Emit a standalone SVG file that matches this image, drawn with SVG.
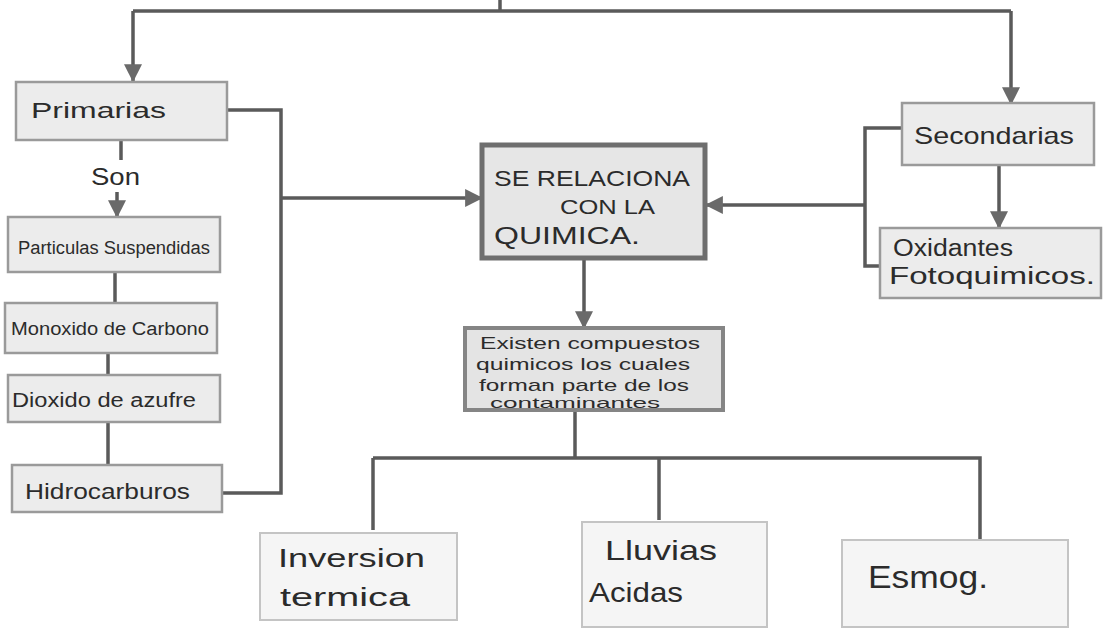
<svg xmlns="http://www.w3.org/2000/svg" width="1111" height="635" viewBox="0 0 1111 635">
<defs>
<style>
.bx{fill:#ececec;stroke:#9a9a9a;stroke-width:2.5}
.lt{fill:#f5f5f5;stroke:#c4c4c4;stroke-width:2}
.ctr{fill:#e6e6e6;stroke:#6e6e6e;stroke-width:5}
.ex{fill:#e4e4e4;stroke:#858585;stroke-width:4}
.ln{fill:none;stroke:#5a5a5a;stroke-width:3.5;stroke-linejoin:miter}
.t{font-family:"Liberation Sans",Arial,sans-serif;fill:#2b2b2b}
</style>
<marker id="ah" markerUnits="userSpaceOnUse" markerWidth="18" markerHeight="18" viewBox="0 0 16 16" refX="15" refY="8" orient="auto">
<path d="M0,0 L16,8 L0,16 Z" fill="#6a6a6a"/>
</marker>
</defs>
<rect width="1111" height="635" fill="#ffffff"/>

<g id="connectors">
<path class="ln" d="M500,0 V11"/>
<path class="ln" d="M133,11 H1011"/>
<path class="ln" d="M133,11 V81" marker-end="url(#ah)"/>
<path class="ln" d="M1011,11 V104" marker-end="url(#ah)"/>
<path class="ln" d="M121,140 V160"/>
<path class="ln" d="M117,192 V217" marker-end="url(#ah)"/>
<path class="ln" d="M115,272 V303"/>
<path class="ln" d="M108,353 V375"/>
<path class="ln" d="M108,422 V465"/>
<path class="ln" d="M227,110 H281 V493 H222"/>
<path class="ln" d="M281,198 H482" marker-end="url(#ah)"/>
<path class="ln" d="M902,128 H865 V266 H880"/>
<path class="ln" d="M865,205 H706" marker-end="url(#ah)"/>
<path class="ln" d="M999,165 V228" marker-end="url(#ah)"/>
<path class="ln" d="M584,258 V328" marker-end="url(#ah)"/>
<path class="ln" d="M575,410 V458"/>
<path class="ln" d="M373,458 H980 V540"/>
<path class="ln" d="M373,458 V530"/>
<path class="ln" d="M659,458 V520"/>
</g>

<g id="primarias">
<rect class="bx" x="16" y="82" width="211" height="58"/>
<text class="t" x="31" y="118" font-size="22" textLength="135" lengthAdjust="spacingAndGlyphs">Primarias</text>
</g>
<g id="son">
<text class="t" x="91" y="185" font-size="24" textLength="49" lengthAdjust="spacingAndGlyphs">Son</text>
</g>
<g id="particulas">
<rect class="bx" x="8" y="217" width="212" height="55"/>
<text class="t" x="18" y="254" font-size="18" textLength="192" lengthAdjust="spacingAndGlyphs">Particulas Suspendidas</text>
</g>
<g id="monoxido">
<rect class="bx" x="5" y="303" width="212" height="50"/>
<text class="t" x="11" y="335" font-size="18" textLength="198" lengthAdjust="spacingAndGlyphs">Monoxido de Carbono</text>
</g>
<g id="dioxido">
<rect class="bx" x="8" y="375" width="212" height="47"/>
<text class="t" x="12" y="407" font-size="20" textLength="184" lengthAdjust="spacingAndGlyphs">Dioxido de azufre</text>
</g>
<g id="hidrocarburos">
<rect class="bx" x="12" y="465" width="210" height="47"/>
<text class="t" x="25" y="499" font-size="22" textLength="165" lengthAdjust="spacingAndGlyphs">Hidrocarburos</text>
</g>

<g id="quimica">
<rect class="ctr" x="482" y="145" width="223" height="113"/>
<text class="t" x="494" y="186" font-size="22" textLength="196" lengthAdjust="spacingAndGlyphs">SE RELACIONA</text>
<text class="t" x="560" y="214" font-size="21" textLength="95" lengthAdjust="spacingAndGlyphs">CON LA</text>
<text class="t" x="494" y="244" font-size="24" textLength="146" lengthAdjust="spacingAndGlyphs">QUIMICA.</text>
</g>

<g id="secundarias">
<rect class="bx" x="902" y="103" width="192" height="62"/>
<text class="t" x="914" y="144" font-size="24" textLength="160" lengthAdjust="spacingAndGlyphs">Secondarias</text>
</g>
<g id="oxidantes">
<rect class="bx" x="880" y="228" width="221" height="70"/>
<text class="t" x="893" y="256" font-size="23" textLength="120" lengthAdjust="spacingAndGlyphs">Oxidantes</text>
<text class="t" x="889" y="284" font-size="23" textLength="206" lengthAdjust="spacingAndGlyphs">Fotoquimicos.</text>
</g>

<g id="existen">
<rect class="ex" x="465" y="328" width="258" height="82"/>
<text class="t" x="480" y="349" font-size="17" textLength="220" lengthAdjust="spacingAndGlyphs">Existen compuestos</text>
<text class="t" x="476" y="370" font-size="17" textLength="214" lengthAdjust="spacingAndGlyphs">quimicos los cuales</text>
<text class="t" x="479" y="391" font-size="17" textLength="210" lengthAdjust="spacingAndGlyphs">forman parte de los</text>
<text class="t" x="490" y="408" font-size="15" textLength="170" lengthAdjust="spacingAndGlyphs">contaminantes</text>
</g>

<g id="inversion">
<rect class="lt" x="260" y="533" width="197" height="87"/>
<text class="t" x="278" y="567" font-size="26" textLength="147" lengthAdjust="spacingAndGlyphs">Inversion</text>
<text class="t" x="280" y="606" font-size="26" textLength="130" lengthAdjust="spacingAndGlyphs">termica</text>
</g>
<g id="lluvias">
<rect class="lt" x="582" y="522" width="185" height="105"/>
<text class="t" x="605" y="560" font-size="28" textLength="112" lengthAdjust="spacingAndGlyphs">Lluvias</text>
<text class="t" x="589" y="602" font-size="28" textLength="94" lengthAdjust="spacingAndGlyphs">Acidas</text>
</g>
<g id="esmog">
<rect class="lt" x="842" y="540" width="226" height="87"/>
<text class="t" x="868" y="588" font-size="32" textLength="120" lengthAdjust="spacingAndGlyphs">Esmog.</text>
</g>
</svg>
